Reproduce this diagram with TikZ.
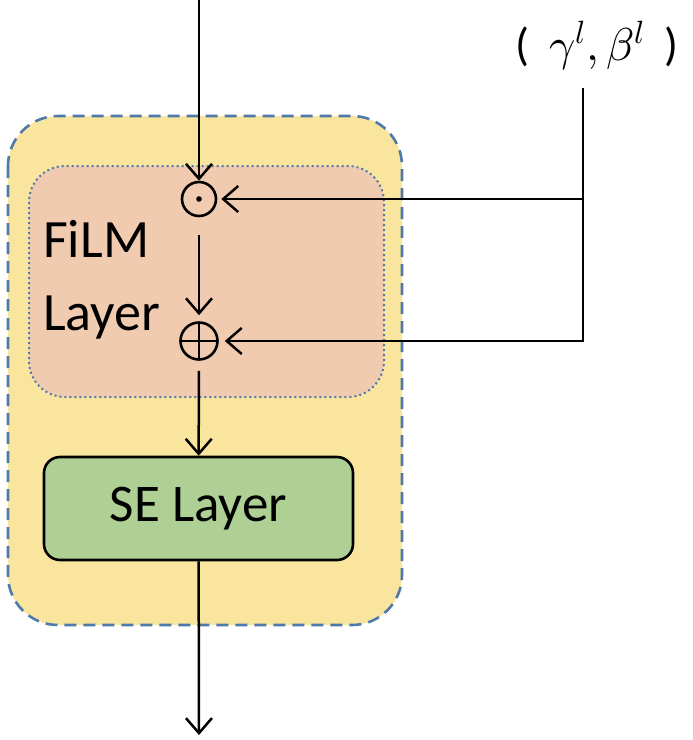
\documentclass[tikz,border=0pt]{standalone}
\usepackage{fontspec}
\usepackage{unicode-math}
\setmainfont{Carlito}
\setmathfont{Latin Modern Math}
\usetikzlibrary{arrows.meta}
\definecolor{outerfill}{HTML}{FAE59F}
\definecolor{outerline}{HTML}{4F79A8}
\definecolor{innerfill}{HTML}{F1CBB0}
\definecolor{sefill}{HTML}{AFD095}
\tikzset{
  conn/.style={line width=2.5pt, -{Straight Barb[length=15pt,width=26pt,line width=2.5pt]}},
  opnode/.style={circle, draw, line width=2.6pt, minimum size=34pt, inner sep=0pt},
  outerbox/.style={draw=outerline, fill=outerfill, line width=2.6pt, dash pattern=on 12pt off 7pt, rounded corners=50pt},
  innerbox/.style={draw=outerline, fill=innerfill, line width=2pt, dash pattern=on 2pt off 3pt, rounded corners=36pt},
  sebox/.style={draw, fill=sefill, line width=2.6pt, rounded corners=16pt, minimum width=309pt, minimum height=103pt, font=\fontsize{53}{60}\selectfont},
}
\begin{document}
\begin{tikzpicture}[x=1pt,y=-1pt]
\useasboundingbox (0,0) rectangle (693,740);
\draw[outerbox] (8,116) rectangle (402,625);
\draw[innerbox] (29,166) rectangle (384,397);
\node[anchor=base west, inner sep=0pt, font=\fontsize{54}{60}\selectfont] (film) at (43,257) {FiLM};
\node[anchor=base west, inner sep=0pt, font=\fontsize{54}{60}\selectfont] (layer) at (43,330) {Layer};
\node[opnode, path picture={\fill (path picture bounding box.center) circle (2.8pt);}] (odot) at (199,199) {};
\node[opnode, minimum size=37pt, path picture={
  \draw[line width=2.4pt] (path picture bounding box.north) -- (path picture bounding box.south);
  \draw[line width=2.4pt] (path picture bounding box.west) -- (path picture bounding box.east);}] (oplus) at (199,341) {};
\node[sebox] (se) at (198.5,508.5) {SE Layer};
\node[font=\fontsize{46}{50}\selectfont, inner sep=0pt] (gb) at (597,46) {(\;\,$\gamma^l,\beta^l$\;\,)};
\coordinate (top) at (199,0);
\coordinate (gbl) at (583,88);
\coordinate (bot) at (199,735);
\draw[conn] (top) -- (odot);
\draw[conn, shorten <=18pt, shorten >=6pt] (odot) -- (oplus);
\draw[conn, shorten <=10pt] (oplus) -- (se);
\draw[conn] (se) -- (bot);
\draw[conn, shorten >=4pt] (gbl) |- (odot);
\draw[conn, shorten >=6pt] (gbl) |- (oplus);
\end{tikzpicture}
\end{document}
